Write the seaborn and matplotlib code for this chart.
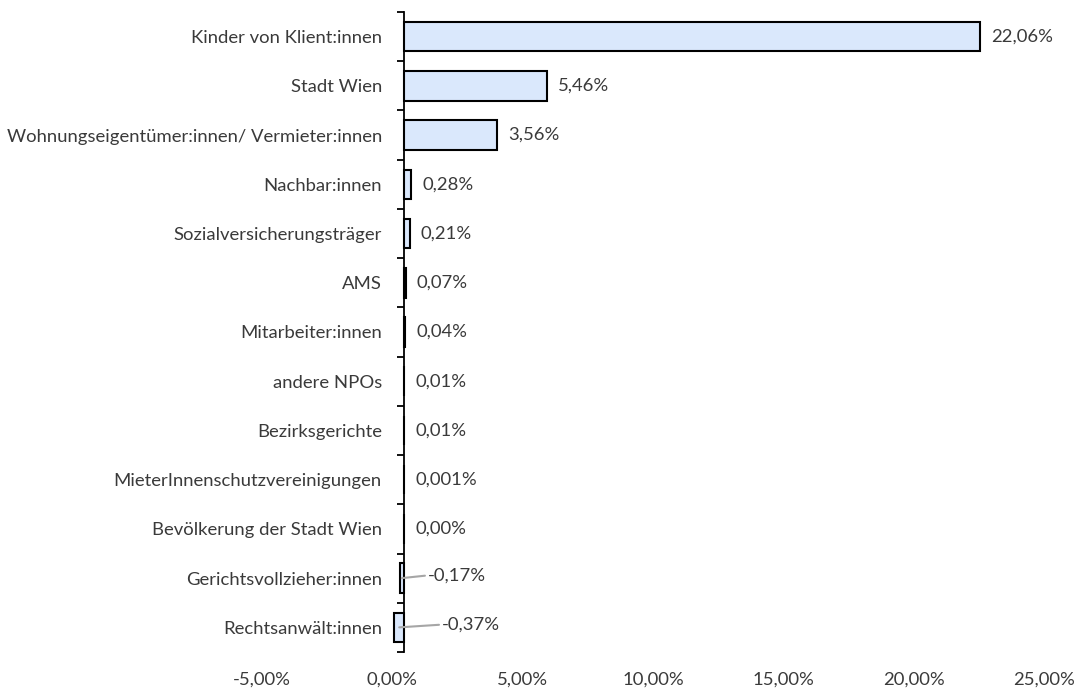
import matplotlib
matplotlib.use("Agg")
import matplotlib.pyplot as plt
import matplotlib.transforms as mtransforms
import numpy as np
import pandas as pd
import seaborn as sns

categories = [
    "Kinder von Klient:innen",
    "Stadt Wien",
    "Wohnungseigentümer:innen/ Vermieter:innen",
    "Nachbar:innen",
    "Sozialversicherungsträger",
    "AMS",
    "Mitarbeiter:innen",
    "andere NPOs",
    "Bezirksgerichte",
    "MieterInnenschutzvereinigungen",
    "Bevölkerung der Stadt Wien",
    "Gerichtsvollzieher:innen",
    "Rechtsanwält:innen",
]
values = [22.06, 5.46, 3.56, 0.28, 0.21, 0.07, 0.04, 0.01, 0.01, 0.001, 0.00, -0.17, -0.37]
x_ticks = [-5, 0, 5, 10, 15, 20, 25]

sns.set_theme(style="white")
plt.rcParams["font.family"] = ["Lato", "DejaVu Sans"]

FS = 13.3
TXT = "#3A3A3A"

df = pd.DataFrame({"kategorie": categories, "wert": values})

fig = plt.figure(figsize=(10.92, 6.93), dpi=100)
ax = fig.add_axes([0.2505, 0.0592, 0.717, 0.9235])

sns.barplot(data=df, y="kategorie", x="wert", orient="h", color="#DAE8FC",
            saturation=1, edgecolor="black", linewidth=1.5, width=0.6, ax=ax)

ax.set_xlim(-5, 25)
ax.set_ylim(len(categories) - 0.5, -0.5)
ax.set_xlabel("")
ax.set_ylabel("")

for s in ["top", "right", "bottom"]:
    ax.spines[s].set_visible(False)
ax.spines["left"].set_position(("data", 0))
ax.spines["left"].set_color("black")
ax.spines["left"].set_linewidth(1.3)

# category labels, boundary ticks on the axis line
ax.tick_params(axis="y", which="major", length=0, pad=16, labelsize=FS, labelcolor=TXT)
ax.set_yticks(np.arange(-0.5, len(categories), 1.0), minor=True)
ax.tick_params(axis="y", which="minor", length=5, width=1.3, color="black", direction="out", left=True)

ax.set_xticks(x_ticks)
ax.set_xticklabels([f"{t:.2f}%".replace(".", ",") for t in x_ticks])
ax.tick_params(axis="x", length=0, pad=14, labelsize=FS, labelcolor=TXT)
shift = mtransforms.ScaledTranslation(-12 / 100, 0, fig.dpi_scale_trans)
for lbl in ax.get_xticklabels():
    lbl.set_transform(lbl.get_transform() + shift)


def fmt(v):
    s = f"{v:.2f}"
    if v != 0 and float(s) == 0:
        s = f"{v:.3f}"
    return s.replace(".", ",") + "%"


for i, v in enumerate(values):
    if v >= 0:
        ax.annotate(fmt(v), xy=(v, i), xytext=(8, 0), textcoords="offset points",
                    va="center", ha="left", fontsize=FS, color=TXT)
    else:
        dx = 19 if v > -0.3 else 31
        ax.annotate(fmt(v), xy=(v / 2, i), xytext=(dx, 2), textcoords="offset points",
                    va="center", ha="left", fontsize=FS, color=TXT,
                    arrowprops=dict(arrowstyle="-", color="#A6A6A6", lw=1.5,
                                    shrinkA=0, shrinkB=0, relpos=(0, 0.5)))

fig.savefig("out.png", dpi=100)
